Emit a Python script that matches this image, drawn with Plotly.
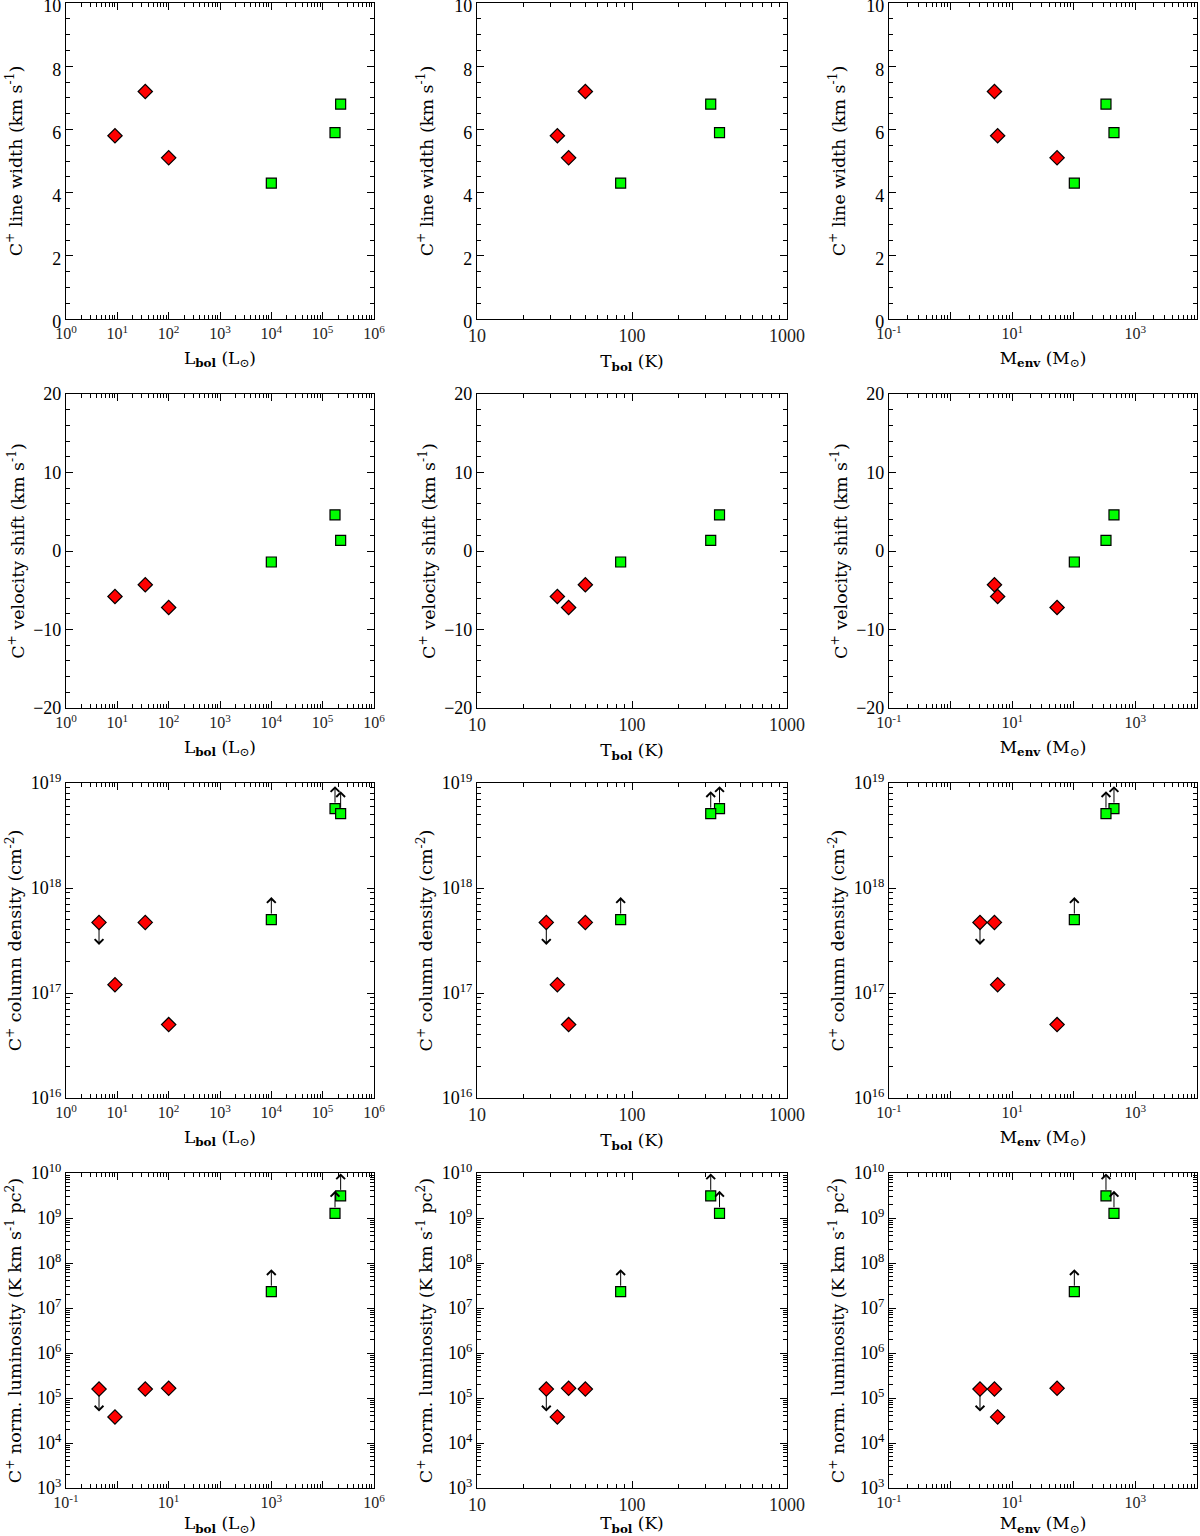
import math

import plotly.graph_objects as go
from plotly.subplots import make_subplots

# red diamonds (first source only appears in the column-density / luminosity rows)
red_lbol = [4.4, 9.0, 35.0, 100.0]
red_tbol = [28.0, 33.0, 50.0, 39.0]
red_menv = [3.0, 5.8, 5.15, 53.5]
red_width = [None, 5.8, 7.2, 5.1]
red_shift = [None, -5.8, -4.3, -7.2]
red_column = [4.7e17, 1.2e17, 4.7e17, 5.0e16]
red_lum = [1.58e5, 3.8e4, 1.58e5, 1.64e5]
red_upper_limit = [True, False, False, False]

# green squares
green_lbol = [1.0e4, 1.74e5, 2.24e5]
green_tbol = [84.5, 367.0, 322.0]
green_menv = [102.0, 449.0, 333.0]
green_width = [4.3, 5.9, 6.8]
green_shift = [-1.4, 4.6, 1.35]
green_column = [5.0e17, 5.7e18, 5.1e18]
green_lum = [2.3e7, 1.27e9, 3.1e9]
green_lower_limit = [True, True, True]

# axis ticks
lbol_tickvals = [1, 10, 100, 1e3, 1e4, 1e5, 1e6]
lbol_ticktext = ['10<sup>0</sup>', '10<sup>1</sup>', '10<sup>2</sup>', '10<sup>3</sup>',
                 '10<sup>4</sup>', '10<sup>5</sup>', '10<sup>6</sup>']
lbol_ticktext_bottom = ['10<sup>-1</sup>', '', '10<sup>1</sup>', '', '10<sup>3</sup>', '', '10<sup>6</sup>']
tbol_tickvals = [10, 100, 1000]
tbol_ticktext = ['10', '100', '1000']
menv_tickvals = [0.1, 1, 10, 100, 1e3, 1e4]
menv_ticktext = ['10<sup>-1</sup>', '', '10<sup>1</sup>', '', '10<sup>3</sup>', '']
width_tickvals = [0, 2, 4, 6, 8, 10]
shift_tickvals = [-20, -10, 0, 10, 20]
column_tickvals = [1e16, 1e17, 1e18, 1e19]
column_ticktext = ['10<sup>16</sup>', '10<sup>17</sup>', '10<sup>18</sup>', '10<sup>19</sup>']
lum_tickvals = [1e3, 1e4, 1e5, 1e6, 1e7, 1e8, 1e9, 1e10]
lum_ticktext = [f'10<sup>{k}</sup>' for k in range(3, 11)]

TITLE_FONT = 'DejaVu Serif'
TICK_FONT = 'Liberation Serif'
COL_X = [(66, 374), (477, 787), (889, 1197)]
ROW_Y = [(3, 319), (394, 708), (783, 1098), (1173, 1488)]
W, H = 1200, 1536

x_params = [
    dict(red=red_lbol, green=green_lbol, title='L<sub><b>bol</b></sub> (L<sub>⊙</sub>)',
         range=[0, 6], tickvals=lbol_tickvals, ticktext=lbol_ticktext, font=16),
    dict(red=red_tbol, green=green_tbol, title='T<sub><b>bol</b></sub> (K)',
         range=[1, 3], tickvals=tbol_tickvals, ticktext=tbol_ticktext, font=18),
    dict(red=red_menv, green=green_menv, title='M<sub><b>env</b></sub> (M<sub>⊙</sub>)',
         range=[-1, 4], tickvals=menv_tickvals, ticktext=menv_ticktext, font=16),
]
y_params = [
    dict(red=red_width, green=green_width, title='C<sup>+</sup> line width (km s<sup>-1</sup>)',
         type='linear', range=[0, 10], tickvals=width_tickvals,
         ticktext=[str(v) for v in width_tickvals], minor=0.5, limits=False, standoff=16),
    dict(red=red_shift, green=green_shift, title='C<sup>+</sup> velocity shift (km s<sup>-1</sup>)',
         type='linear', range=[-20, 20], tickvals=shift_tickvals,
         ticktext=[str(v).replace('-', '−') for v in shift_tickvals], minor=2, limits=False, standoff=4),
    dict(red=red_column, green=green_column, title='C<sup>+</sup> column density (cm<sup>-2</sup>)',
         type='log', range=[16, 19], tickvals=column_tickvals, ticktext=column_ticktext,
         minor='D1', limits=True, standoff=4),
    dict(red=red_lum, green=green_lum,
         title='C<sup>+</sup> norm. luminosity (K km s<sup>-1</sup> pc<sup>2</sup>)',
         type='log', range=[3, 10], tickvals=lum_tickvals, ticktext=lum_ticktext,
         minor='D1', limits=True, standoff=4),
]

fig = make_subplots(rows=4, cols=3)
annotations = []

for r, yp in enumerate(y_params):
    for c, xp in enumerate(x_params):
        row, col = r + 1, c + 1
        n = r * 3 + c + 1
        for key, symbol, color, size in (('red', 'diamond', '#ff0000', 11), ('green', 'square', '#00ff00', 10)):
            xs, ys = xp[key], yp[key]
            pts = [(x, y) for x, y in zip(xs, ys) if y is not None]
            fig.add_trace(go.Scatter(
                x=[p[0] for p in pts], y=[p[1] for p in pts], mode='markers',
                marker=dict(symbol=symbol, size=size, color=color, line=dict(color='black', width=1.2)),
                showlegend=False, cliponaxis=False,
            ), row=row, col=col)
            if yp['limits']:
                flags = red_upper_limit if key == 'red' else green_lower_limit
                for x, y, flag in zip(xs, ys, flags):
                    if not flag:
                        continue
                    up = key == 'green'
                    annotations.append(dict(
                        xref=f'x{n}', yref=f'y{n}', x=math.log10(x), y=math.log10(y),
                        text='', showarrow=True, ax=0, ay=-24 if up else 24,
                        arrowside='start', startarrowhead=4, startarrowsize=1.7,
                        arrowwidth=1, arrowcolor='black', standoff=6,
                    ))

        x0, x1 = COL_X[c]
        y0, y1 = ROW_Y[r]
        ticktext = lbol_ticktext_bottom if (r == 3 and c == 0) else xp['ticktext']
        fig.update_xaxes(
            type='log', range=xp['range'], domain=[x0 / W, x1 / W], automargin=False,
            tickmode='array', tickvals=xp['tickvals'], ticktext=ticktext,
            ticks='inside', ticklen=7, tickcolor='black', tickwidth=1,
            minor=dict(ticks='inside', ticklen=4, dtick='D1', tickcolor='black', tickwidth=1),
            showline=True, linecolor='black', linewidth=1.2, mirror='ticks',
            showgrid=False, zeroline=False, ticklabeloverflow='allow',
            tickfont=dict(family=TICK_FONT, size=xp['font'], color='#222'),
            title=dict(text=xp['title'], font=dict(family=TITLE_FONT, size=17, color='black'), standoff=10),
            row=row, col=col,
        )
        fig.update_yaxes(
            type=yp['type'], range=yp['range'], domain=[1 - y1 / H, 1 - y0 / H], automargin=False,
            tickmode='array', tickvals=yp['tickvals'], ticktext=yp['ticktext'],
            ticks='inside', ticklen=7, tickcolor='black', tickwidth=1,
            minor=dict(ticks='inside', ticklen=4, dtick=yp['minor'], tickcolor='black', tickwidth=1),
            showline=True, linecolor='black', linewidth=1.2, mirror='ticks',
            showgrid=False, zeroline=False, ticklabeloverflow='allow',
            ticklabelshift=3 if r == 0 else 0,
            tickfont=dict(family=TICK_FONT, size=18, color='black'),
            title=dict(text=yp['title'], font=dict(family=TITLE_FONT, size=17.5, color='black'),
                       standoff=yp['standoff']),
            row=row, col=col,
        )

fig.update_layout(
    width=W, height=H,
    margin=dict(l=0, r=0, t=0, b=0),
    paper_bgcolor='white', plot_bgcolor='white',
    showlegend=False,
    annotations=annotations,
    font=dict(family=TITLE_FONT, color='black'),
)

# drop the default page margin so the figure sits at the window's top-left corner
fig.write_html('out.html', config={'displayModeBar': False},
               post_script="document.body.style.margin = '0';")
